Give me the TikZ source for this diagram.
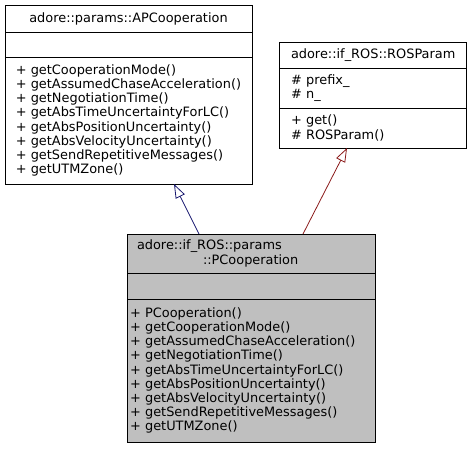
\documentclass[tikz,border=0pt]{standalone}
\usepackage{fontspec}
\setmainfont{DejaVu Sans}
\usetikzlibrary{positioning,arrows.meta}
\definecolor{inhblue}{HTML}{191970}
\definecolor{inhred}{HTML}{8B1A1A}
\definecolor{classgray}{HTML}{BFBFBF}
\newcommand{\umlfont}{\fontsize{12.9}{14.2}\selectfont}
\begin{document}
\begin{tikzpicture}[x=1pt,y=-1pt,line width=.8pt,font=\umlfont,
    part/.style={draw,outer sep=0pt,inner xsep=12pt,inner ysep=0pt,align=left,anchor=north west},
    inherit/.style={-{Triangle[open,length=14pt,width=10pt]}}]
  \useasboundingbox (0,0) rectangle (471,448);

  % adore::params::APCooperation
  \node[part,minimum width=247pt,minimum height=27pt,align=center] (apHead) at (5,5) {adore::params::APCooperation};
  \node[part,minimum width=247pt,minimum height=25pt,below=0pt of apHead] (apAttr) {};
  \node[part,inner xsep=0pt,minimum width=247pt,minimum height=127pt,below=0pt of apAttr] (apMeth) {%
    + getCooperationMode()\\
    + getAssumedChaseAcceleration()\\
    + getNegotiationTime()\\
    + getAbsTimeUncertaintyForLC()\\
    + getAbsPositionUncertainty()\\
    + getAbsVelocityUncertainty()\\
    + getSendRepetitiveMessages()\\
    + getUTMZone()};

  % adore::if_ROS::ROSParam
  \node[part,text width=163pt,minimum height=26pt,align=center] (rpHead) at (279,42) {adore::if\_ROS::ROSParam};
  \node[part,text width=163pt,minimum height=40pt,below=0pt of rpHead] (rpAttr) {%
    \# prefix\_\\
    \# n\_};
  \node[part,text width=163pt,minimum height=40pt,below=0pt of rpAttr] (rpMeth) {%
    + get()\\
    \# ROSParam()};

  % adore::if_ROS::params::PCooperation
  \node[part,fill=classgray,inner xsep=10pt,text width=228pt,minimum height=39pt] (pcHead) at (127,234) {%
    adore::if\_ROS::params\\
    \hspace*{66pt}::PCooperation};
  \node[part,fill=classgray,inner xsep=3pt,text width=242pt,minimum height=26pt,below=0pt of pcHead] (pcAttr) {};
  \node[part,fill=classgray,inner xsep=3pt,text width=242pt,minimum height=143pt,below=0pt of pcAttr] (pcMeth) {%
    + PCooperation()\\
    + getCooperationMode()\\
    + getAssumedChaseAcceleration()\\
    + getNegotiationTime()\\
    + getAbsTimeUncertaintyForLC()\\
    + getAbsPositionUncertainty()\\
    + getAbsVelocityUncertainty()\\
    + getSendRepetitiveMessages()\\
    + getUTMZone()};

  \draw[inherit,inhblue] ([xshift=-52pt]pcHead.north) -- ([xshift=45.5pt]apMeth.south);
  \draw[inherit,inhred] ([xshift=52pt]pcHead.north) -- ([xshift=-25.5pt]rpMeth.south);
\end{tikzpicture}
\end{document}
